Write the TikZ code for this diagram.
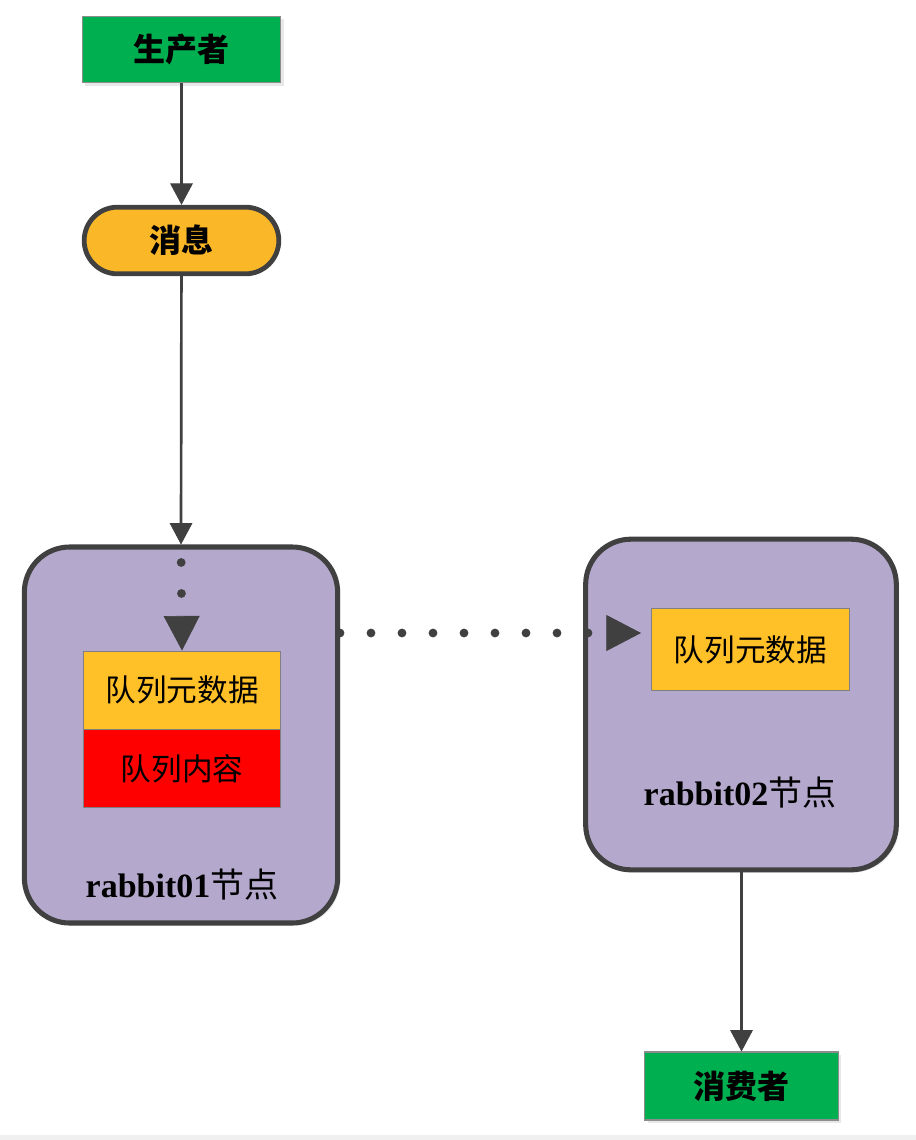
\documentclass[tikz,border=0pt]{standalone}
\usepackage{fontspec}
\setmainfont{Liberation Serif}
\newfontfamily\cjk{Noto Sans CJK SC}
\usetikzlibrary{arrows.meta,shadows}

\definecolor{boxgreen}{RGB}{0,176,80}
\definecolor{pillorange}{RGB}{250,183,40}
\definecolor{metaorange}{RGB}{255,192,40}
\definecolor{nodepurple}{RGB}{180,169,204}
\definecolor{edgegrey}{RGB}{64,64,64}

\tikzset{
  actor/.style={draw=black!45, line width=0.8pt, fill=boxgreen,
    minimum width=149pt, minimum height=50pt, inner sep=0pt,
    font=\cjk\fontsize{24}{24}\selectfont\bfseries,
    drop shadow={opacity=0.18, shadow xshift=2pt, shadow yshift=-2pt}},
  pill/.style={draw=edgegrey, line width=3.6pt, fill=pillorange,
    rounded corners=25pt, minimum width=146pt, minimum height=50pt, inner sep=0pt,
    font=\cjk\fontsize{24}{24}\selectfont\bfseries},
  broker/.style={draw=edgegrey, line width=3.8pt, fill=nodepurple,
    rounded corners=34pt, inner sep=0pt,
    drop shadow={opacity=0.15, shadow xshift=2pt, shadow yshift=-2pt}},
  queuebox/.style={draw=black!50, line width=0.6pt,
    minimum width=148pt, inner sep=0pt,
    font=\cjk\fontsize{23}{23}\selectfont},
  flow/.style={draw=edgegrey, line width=2pt,
    -{Triangle[length=16pt, width=17pt, line width=0.5pt]}},
  mirror/.style={draw=edgegrey, line width=6.6pt, line cap=round,
    dash pattern=on 0pt off 23.25pt,
    -{Triangle[length=26pt, width=27pt, line width=0.5pt]}},
}

\begin{document}
\begin{tikzpicture}[x=0.75pt, y=-0.75pt]
  % canvas
  \useasboundingbox (0,0) rectangle (916,1140);
  \fill[white] (0,0) rectangle (916,1140);
  \fill[black!6] (0,1135) rectangle (916,1140);

  % producer and message
  \node[actor] (prod) at (181.5,49.5) {生产者};
  \node[pill] (msg) at (181.5,240.5) {消息};

  % broker nodes
  \node[broker, minimum width=235pt, minimum height=282pt] (rab1) at (181,735) {};
  \node[broker, minimum width=233pt, minimum height=248pt] (rab2) at (741,704.5) {};

  % queues in rabbit01
  \node[queuebox, fill=metaorange, minimum height=58.5pt] (meta1) at (182,690) {队列元数据};
  \node[queuebox, fill=red, minimum height=58pt, anchor=north] (body1) at (meta1.south) {队列内容};
  \node[font=\fontsize{25.5}{25.5}\selectfont] (lab1) at (182,885)
    {\textbf{rabbit01}{\cjk 节点}};

  % queue in rabbit02
  \node[queuebox, fill=metaorange, minimum height=61pt] (meta2) at (750.5,649.5) {队列元数据};
  \node[font=\fontsize{25.5}{25.5}\selectfont] (lab2) at (740,793)
    {\textbf{rabbit02}{\cjk 节点}};

  % consumer
  \node[actor, minimum width=145pt, minimum height=51pt] (cons) at (741.5,1086) {消费者};

  % connectors
  \coordinate (h1) at (340,633);
  \coordinate (h2) at (641,633);
  \draw[flow] (prod) -- (msg);
  \draw[flow] (msg) -- (rab1.north);
  \draw[mirror, dash phase=9.75pt] (rab1.north) -- (meta1.north);
  \draw[mirror, dash phase=0pt] (h1) -- (h2);
  \draw[flow] (rab2.south -| cons.north) -- (cons.north);
\end{tikzpicture}
\end{document}
